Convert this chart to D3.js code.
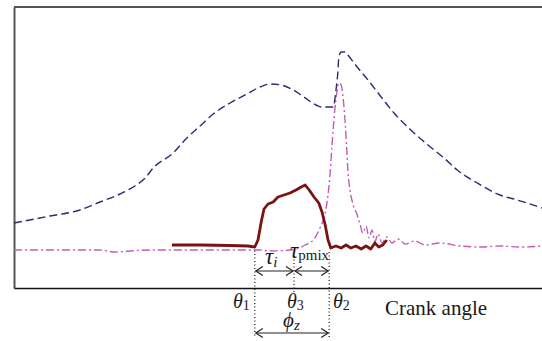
<!DOCTYPE html>
<html>
<head>
<meta charset="utf-8">
<script src="https://cdn.jsdelivr.net/npm/d3@7"></script>
<style>
  body { margin: 0; background: #fff; }
  svg { display: block; }
  text { font-family: "Liberation Serif", "DejaVu Serif", serif; fill: #1a1a1a; }
</style>
</head>
<body>
<svg id="canvas" width="542" height="341"></svg>
<script>
// crank angle (deg, TDC = 0) and signal values (arbitrary units)
const pressureAngle = [-36, -31.5, -27.75, -25.25, -22.75, -21.1, -19.6, -18.6, -16.1, -14.4, -12.75, -11.1, -9, -6.9, -5.25, -3.9, -2.6, -1.1, 0.25, 1.75, 2.4, 3.9, 4.25, 4.5, 4.6, 4.9, 5.4, 5.75, 6.5, 8.25, 9.9, 11.5, 13.6, 15.75, 17.75, 19.4, 21.9, 24.75, 26.9, 30];
const pressureValue = [32.5, 36, 39, 43, 47, 50.5, 55, 60, 67.5, 75, 81, 87, 92.5, 97, 100.5, 102, 101.5, 99, 95.5, 91.5, 90.5, 90.5, 99, 109, 115.5, 118, 118, 116.5, 112.5, 104, 95.5, 87.5, 79, 71.5, 65, 59, 52.5, 46.5, 44, 40];

const heatAngle = [-36, -30.25, -25.25, -23.4, -21.5, -19, -12.75, -7.75, -5.25, -4, -1.5, 0.4, 1.6, 2.25, 2.9, 3.25, 3.5, 3.75, 4.1, 4.4, 4.6, 4.9, 5.1, 5.4, 5.6, 5.75, 6, 6.4, 6.9, 7.25, 7.6, 8, 8.4, 8.75, 9.1, 9.5, 10, 10.6, 11.25, 12, 12.9, 14.1, 15.4, 17.25, 19.75, 22.25, 24.75, 27.25, 30];
const heatValue = [19, 19, 19, 18, 18.5, 19, 19, 19, 19, 18.5, 19, 21.5, 25, 30, 37.5, 46.5, 56.5, 71.5, 89, 99, 102.5, 101.5, 96.5, 82.5, 69, 58, 49, 41.5, 36.5, 32, 27.5, 31, 25, 29, 23, 27, 22.5, 25.5, 22.5, 24.5, 22, 23.5, 21.5, 22.5, 21, 20.5, 21, 20.5, 21];

const injAngle = [-16.25, -12.75, -9, -6.75, -5.9, -5.5, -5.1, -4.75, -4.25, -3.6, -3, -2.25, -1.5, -0.75, -0.1, 0.4, 0.9, 1.5, 2.1, 2.5, 2.9, 3.25, 3.6, 3.9, 4.25, 4.9, 5.5, 6.1, 6.75, 7.4, 8, 8.6, 9.1, 9.6, 10.1, 10.6];
const injValue = [21.5, 21.5, 21.25, 21, 20.5, 24, 33, 39.5, 42, 43, 45.5, 46.5, 47.5, 49, 50.5, 51.5, 49, 45.5, 42.5, 38, 31.5, 24, 20, 20.5, 21, 20, 21.5, 20, 21, 19.5, 21, 19.5, 22.5, 20.5, 21.5, 24];

const markAngles = [-5.9, -1, 3.4];   // theta1, theta3, theta2
const markNames = ["1", "3", "2"];
const xLabel = "Crank angle";

let canvas = d3.select("#canvas");
let x = d3.scaleLinear().domain([-36, 30]).range([14, 542]);
let y = d3.scaleLinear().domain([0, 140.5]).range([288, 7]);

let zip = (a, b) => a.map((d, i) => [d, b[i]]);

// frame
canvas.append("line").attr("x1", 14).attr("x2", 542).attr("y1", 7).attr("y2", 7)
    .attr("stroke", "#555").attr("stroke-width", 2);
canvas.append("g").attr("transform", "translate(14,0)")
    .call(d3.axisLeft(y).ticks(0).tickSizeOuter(0))
    .select(".domain").attr("stroke", "#555").attr("stroke-width", 2);
canvas.append("g").attr("transform", "translate(0,288)")
    .call(d3.axisBottom(x).ticks(0).tickSizeOuter(0))
    .select(".domain").attr("stroke", "#111").attr("stroke-width", 1.6);

let smooth = d3.line().x(d => x(d[0])).y(d => y(d[1])).curve(d3.curveMonotoneX);
let rough = d3.line().x(d => x(d[0])).y(d => y(d[1]));

canvas.append("path").datum(zip(heatAngle, heatValue))
    .attr("d", smooth).attr("fill", "none")
    .attr("stroke", "#c45cb6").attr("stroke-width", 1.4)
    .attr("stroke-dasharray", "8,3,2,3");

canvas.append("path").datum(zip(pressureAngle, pressureValue))
    .attr("d", smooth).attr("fill", "none")
    .attr("stroke", "#2c2b74").attr("stroke-width", 1.4)
    .attr("stroke-dasharray", "8,4");

canvas.append("path").datum(zip(injAngle, injValue))
    .attr("d", rough).attr("fill", "none")
    .attr("stroke", "#7b1212").attr("stroke-width", 2.8)
    .attr("stroke-linejoin", "round");

// dotted markers
let dotTop = [247, 256, 252];
let dotBot = [337, 292, 337];
markAngles.forEach((a, i) => {
    canvas.append("line")
        .attr("x1", x(a)).attr("x2", x(a))
        .attr("y1", dotTop[i]).attr("y2", dotBot[i])
        .attr("stroke", "#222").attr("stroke-width", 1.3)
        .attr("stroke-dasharray", "1,2.5");
});

// double arrows
let arrow = (a0, a1, yy) => {
    let x0 = x(a0) + 1, x1 = x(a1) - 1;
    canvas.append("line").attr("x1", x0).attr("x2", x1).attr("y1", yy).attr("y2", yy)
        .attr("stroke", "#222").attr("stroke-width", 1.2);
    canvas.append("path")
        .attr("d", `M${x0 + 7},${yy - 4.5}L${x0},${yy}L${x0 + 7},${yy + 4.5}M${x1 - 7},${yy - 4.5}L${x1},${yy}L${x1 - 7},${yy + 4.5}`)
        .attr("fill", "none").attr("stroke", "#222").attr("stroke-width", 1.2);
};
arrow(markAngles[0], markAngles[1], 271);
arrow(markAngles[1], markAngles[2], 271);
arrow(markAngles[0], markAngles[2], 333);

// labels
let sym = (xx, yy, main, sub, subItalic, size, subSize, subDy) => {
    let t = canvas.append("text").attr("x", xx).attr("y", yy).attr("font-size", size);
    t.append("tspan").attr("font-style", "italic").text(main);
    t.append("tspan").attr("font-size", subSize).attr("dy", subDy)
        .attr("font-style", subItalic ? "italic" : "normal").text(sub);
};
let thetaX = [233, 287, 333];
markNames.forEach((n, i) => sym(thetaX[i], 308, "\u03b8", n, false, 20, 14, 2));
sym(283, 327, "\u03d5", "z", true, 21, 15, 3);
sym(265, 264, "\u03c4", "i", true, 23, 15, 3);
sym(290, 258, "\u03c4", "pmix", false, 23, 15, 2);

canvas.append("text").attr("x", 385).attr("y", 315).attr("font-size", 21).text(xLabel);
</script>
</body>
</html>
